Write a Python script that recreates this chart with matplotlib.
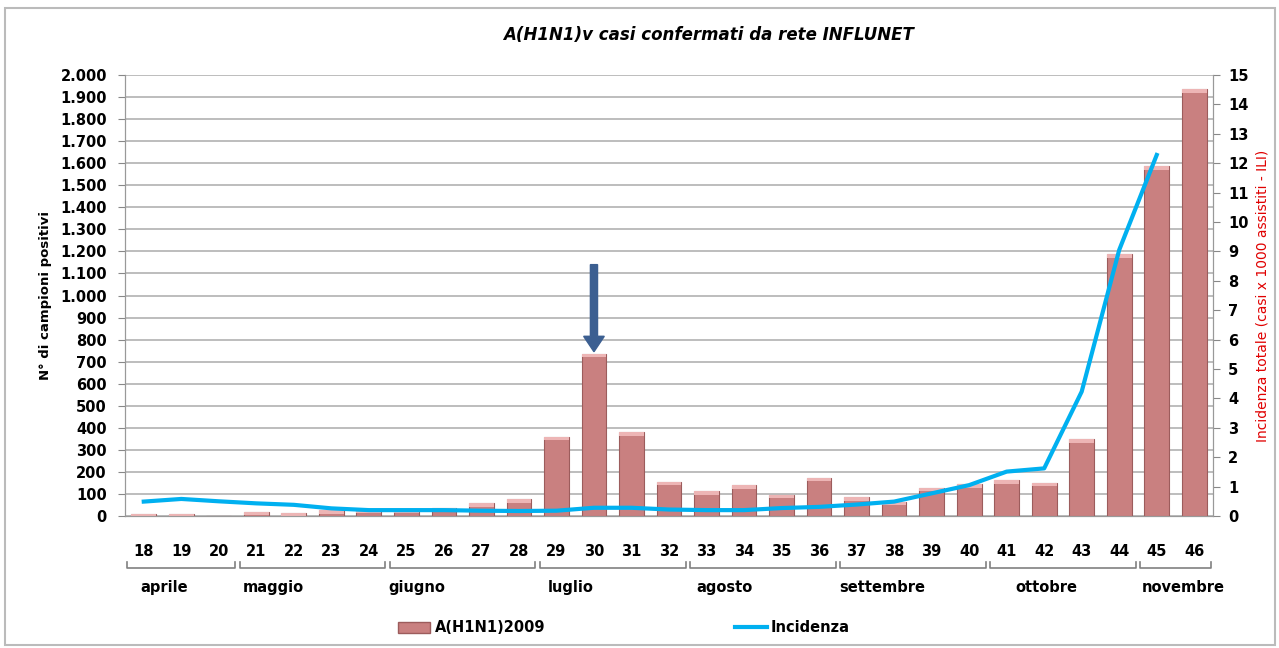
import numpy as np
import matplotlib
matplotlib.use("Agg")
import matplotlib.pyplot as plt
from matplotlib.patches import Rectangle
from matplotlib.lines import Line2D
import matplotlib.transforms as mtransforms

# --- data ---
settimane = list(range(18, 47))
casi_positivi = [8, 8, 0, 20, 12, 25, 30, 30, 38, 59, 76, 360, 735, 380, 155,
                 113, 139, 97, 174, 85, 65, 128, 145, 162, 151, 348, 1188, 1587, 1935]
incidenza = [0.49, 0.58, 0.50, 0.43, 0.38, 0.26, 0.20, 0.20, 0.20, 0.18, 0.17, 0.18, 0.28, 0.28,
             0.22, 0.20, 0.20, 0.27, 0.31, 0.39, 0.49, 0.77, 1.05, 1.51, 1.62, 4.23, 9.05, 12.28, np.nan]
mesi = ['aprile', 'maggio', 'giugno', 'luglio', 'agosto', 'settembre', 'ottobre', 'novembre']
mese_inizio = [18, 21, 25, 29, 33, 37, 41, 45]
mese_fine = [20, 24, 28, 32, 36, 40, 44, 46]
freccia_settimana = 30
freccia_da, freccia_a = 1140, 745

plt.rcParams['font.family'] = ['DejaVu Sans']

fig = plt.figure(figsize=(12.79, 6.48), dpi=100)
ax = fig.add_axes([125 / 1279, 1 - 516 / 648, (1213 - 125) / 1279, (516 - 75) / 648])
ax2 = ax.twinx()

x = np.arange(len(settimane))

# bars with a lighter bevel on top
ax.bar(x, casi_positivi, width=0.66, color='#C98080', edgecolor='#9C5C5C', linewidth=0.8, zorder=3)
cap = np.minimum(casi_positivi, 16)
ax.bar(x, cap, bottom=np.array(casi_positivi) - cap, width=0.66, color='#EDB5B5',
       edgecolor='none', zorder=3.5)

ax.set_xlim(-0.5, len(settimane) - 0.5)
ax.set_ylim(0, 2000)
ax.set_yticks(range(0, 2001, 100))
ax.set_yticklabels([f"{v:,}".replace(',', '.') for v in range(0, 2001, 100)])
ax.yaxis.grid(True, color='#BDBDBD', linewidth=1.4, zorder=0)
ax.set_axisbelow(True)
ax.set_xticks(x)
ax.set_xticklabels([str(s) for s in settimane])
ax.tick_params(axis='x', length=0, pad=20, labelsize=10.5)
ax.tick_params(axis='y', length=5, color='#888888', labelsize=10.5, pad=8)
for lab in ax.get_xticklabels() + ax.get_yticklabels():
    lab.set_fontweight('bold')
ax.spines['top'].set_visible(False)
for side in ['left', 'bottom', 'right']:
    ax.spines[side].set_color('#999999')
ax.set_ylabel('N° di campioni positivi', fontsize=9.5, fontweight='bold', labelpad=6)

# incidence line on right axis
ax2.plot(x, incidenza, color='#00B0F0', linewidth=3, zorder=5)
ax2.set_ylim(0, 15)
ax2.set_yticks(range(0, 16))
ax2.tick_params(axis='y', length=5, color='#888888', labelsize=10.5, pad=6)
for lab in ax2.get_yticklabels():
    lab.set_fontweight('bold')
ax2.spines['top'].set_visible(False)
for side in ['left', 'bottom', 'right']:
    ax2.spines[side].set_color('#999999')
ax2.set_ylabel('Incidenza totale (casi x 1000 assistiti - ILI)', color='#E00000',
               fontsize=10, labelpad=5)

# arrow pointing to week 30
ix = settimane.index(freccia_settimana)
ax.arrow(ix, freccia_da, 0, freccia_a - freccia_da, width=0.19, head_width=0.55,
         head_length=70, length_includes_head=True, color='#3C5F91', zorder=6)

# month brackets
trans = mtransforms.blended_transform_factory(ax.transData, ax.transAxes)
offset_etichetta = [0.54, 0.45, 0.27, 0.39, 0.48, 0.68, 1.05, 0.71]
for nome, a, b, off in zip(mesi, mese_inizio, mese_fine, offset_etichetta):
    i0 = settimane.index(a) - 0.5 + 0.06
    i1 = settimane.index(b) + 0.5 - 0.06
    ax.add_line(Line2D([i0, i0, i1, i1], [-0.104, -0.119, -0.119, -0.104], transform=trans,
                       color='#808080', linewidth=1.2, clip_on=False))
    ax.text(settimane.index(a) + off, -0.163, nome, transform=trans, ha='center', va='center',
            fontsize=10.5, fontweight='bold', clip_on=False)

# title
fig.text(709 / 1279, 1 - 35 / 648, 'A(H1N1)v casi confermati da rete INFLUNET',
         ha='center', va='center', fontsize=12, fontweight='bold', style='italic')

# legend
handles = [Rectangle((0, 0), 1, 1, facecolor='#C98080', edgecolor='#9C5C5C'),
           Line2D([0], [0], color='#00B0F0', linewidth=3)]
fig.legend(handles, ['A(H1N1)2009', 'Incidenza'], loc='center', ncol=2,
           bbox_to_anchor=(624 / 1279, 1 - 628 / 648), frameon=False,
           prop={'weight': 'bold', 'size': 10.5}, columnspacing=13, handlelength=2.2,
           handletextpad=0.3)

# outer frame
fig.patches.append(Rectangle((5 / 1279, 3 / 648), 1270 / 1279, 637 / 648, transform=fig.transFigure,
                             fill=False, edgecolor='#BBBBBB', linewidth=1.5))

fig.savefig('out.png', dpi=100, facecolor='white')
